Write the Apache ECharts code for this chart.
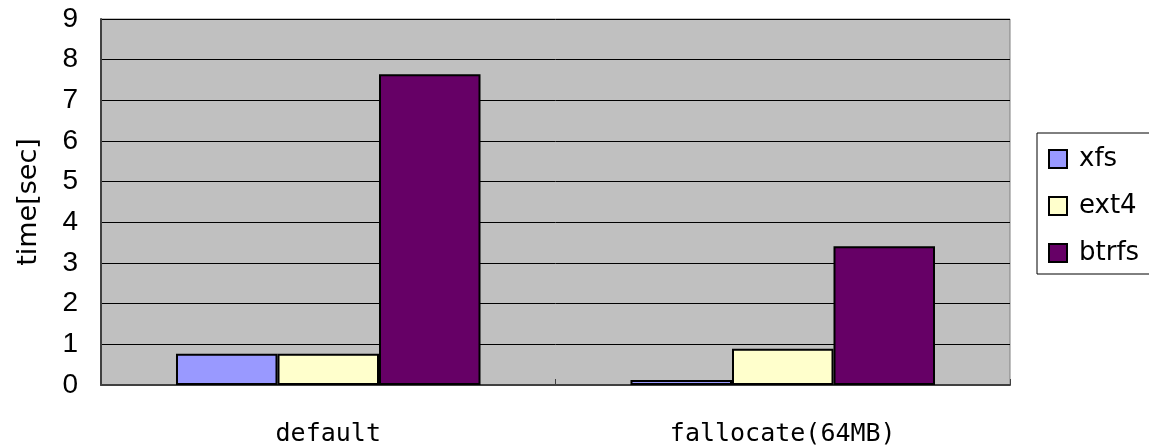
<!DOCTYPE html>
<html>
<head>
<meta charset="utf-8">
<script src="https://cdn.jsdelivr.net/npm/echarts@6/dist/echarts.min.js"></script>
<style>html,body{margin:0;padding:0;background:#fff;}#c{width:1149px;height:446px;}</style>
</head>
<body>
<div id="c"></div>
<script>
const categories = ['default', 'fallocate(64MB)'];
const seriesNames = ['xfs', 'ext4', 'btrfs'];
const xfsValues = [0.77, 0.12];
const ext4Values = [0.77, 0.89];
const btrfsValues = [7.64, 3.41];
const yTicks = [0, 1, 2, 3, 4, 5, 6, 7, 8, 9];
const colors = ['#9999FF', '#FFFFCC', '#660066'];
const valueLists = [xfsValues, ext4Values, btrfsValues];

const chart = echarts.init(document.getElementById('c'), null, {renderer: 'canvas'});
chart.setOption({
  animation: false,
  backgroundColor: '#ffffff',
  grid: {
    left: 101, right: 139, top: 19, bottom: 61,
    outerBoundsMode: 'none',
    containLabel: false,
    show: true, backgroundColor: '#C0C0C0', borderColor: '#808080', borderWidth: 1
  },
  legend: {
    orient: 'vertical',
    left: 1037, top: 133,
    padding: [13, 60, 8, 11],
    backgroundColor: '#ffffff',
    borderColor: '#000000',
    borderWidth: 1,
    itemWidth: 18, itemHeight: 18,
    itemGap: 21,
    icon: 'rect',
    data: seriesNames,
    textStyle: {fontFamily: 'DejaVu Sans', fontSize: 26, color: '#000', padding: [0, 0, 0, 7]}
  },
  xAxis: {
    type: 'category',
    data: categories,
    axisLine: {show: true, lineStyle: {color: '#404040', width: 2}},
    axisTick: {show: true, inside: true, length: 6, lineStyle: {color: '#404040'}},
    axisLabel: {margin: 37, fontFamily: 'DejaVu Sans Mono', fontSize: 25, color: '#000'},
    splitLine: {show: false}
  },
  yAxis: {
    type: 'value',
    min: yTicks[0], max: yTicks[yTicks.length - 1], interval: 1,
    name: 'time[sec]',
    nameLocation: 'middle',
    nameGap: 59,
    nameRotate: 90,
    nameTextStyle: {fontFamily: 'DejaVu Sans', fontSize: 27, color: '#000'},
    axisLine: {show: true, lineStyle: {color: '#404040', width: 2}},
    axisTick: {show: false},
    axisLabel: {margin: 23, fontFamily: 'Liberation Sans', fontSize: 28, color: '#000'},
    splitLine: {show: true, lineStyle: {color: '#000000', width: 1}}
  },
  series: seriesNames.map((n, i) => ({
    name: n,
    type: 'bar',
    data: valueLists[i],
    barGap: '0%',
    barCategoryGap: '33%',
    itemStyle: {color: colors[i], borderColor: '#000000', borderWidth: 2}
  }))
});
</script>
</body>
</html>
